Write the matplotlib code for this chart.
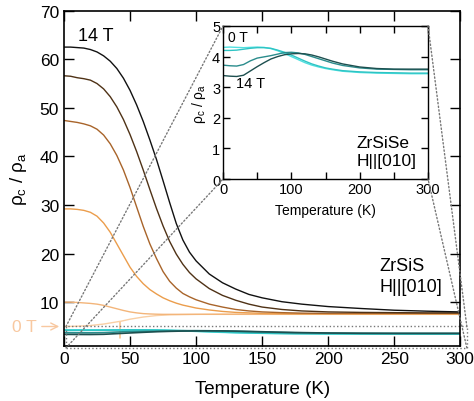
import matplotlib
matplotlib.use("Agg")
import matplotlib.pyplot as plt
from matplotlib.patches import ConnectionPatch
from matplotlib.ticker import MultipleLocator

plt.rcParams["font.family"] = ["Liberation Sans", "DejaVu Sans"]
plt.rcParams["mathtext.fontset"] = "custom"
plt.rcParams["mathtext.rm"] = "Liberation Sans"
plt.rcParams["mathtext.it"] = "Liberation Sans"

# ZrSiS, H || [010], main panel (0 T ... 14 T)
T_s = [0, 5, 10, 15, 20, 25, 30, 35, 40, 45, 50, 55, 60, 65, 70, 75, 80, 85, 90, 95,
       100, 110, 120, 130, 140, 150, 165, 180, 200, 225, 250, 275, 300]
s_14T = [62.5, 62.5, 62.4, 62.3, 62.0, 61.5, 60.7, 59.6, 58.1, 56.1, 53.6, 50.6, 47.2,
         43.4, 39.4, 35.0, 30.5, 26.2, 22.8, 20.3, 18.5, 15.8, 14.0, 12.7, 11.6, 10.9,
         10.1, 9.6, 9.1, 8.7, 8.35, 8.15, 8.0]
s_11T = [56.6, 56.5, 56.2, 56.0, 55.7, 55.0, 53.9, 52.3, 50.2, 47.6, 44.5, 41.0, 37.2,
         33.2, 29.3, 25.7, 22.5, 19.9, 17.8, 16.1, 14.8, 12.8, 11.4, 10.4, 9.6, 9.0,
         8.5, 8.2, 8.0, 7.9, 7.85, 7.8, 7.8]
s_9T = [47.4, 47.2, 47.0, 46.7, 46.3, 45.6, 44.4, 42.6, 40.2, 37.2, 33.6, 29.6, 25.6,
        22.0, 19.0, 16.3, 14.3, 12.9, 11.8, 11.1, 10.5, 9.6, 9.0, 8.5, 8.2, 8.0,
        7.85, 7.75, 7.7, 7.7, 7.7, 7.7, 7.7]
s_6T = [29.2, 29.2, 29.1, 28.9, 28.5, 27.7, 26.3, 24.4, 22.0, 19.6, 17.2, 15.3, 13.8,
        12.6, 11.7, 10.9, 10.3, 9.8, 9.4, 9.1, 8.8, 8.4, 8.1, 7.9, 7.8, 7.7,
        7.65, 7.6, 7.6, 7.6, 7.6, 7.6, 7.6]
s_3T = [10.0, 10.0, 9.95, 9.85, 9.75, 9.6, 9.35, 9.0, 8.65, 8.3, 8.0, 7.8, 7.65, 7.58,
        7.53, 7.5, 7.5, 7.5, 7.5, 7.5, 7.5, 7.5, 7.5, 7.5, 7.5, 7.5, 7.5, 7.5, 7.5,
        7.5, 7.5, 7.5, 7.5]

T_0 = [0, 10, 20, 30, 40, 42.2, 42.4, 42.6, 50, 60, 70, 80, 90, 100, 120, 150, 200, 300]
s_0T = [5.0, 5.05, 5.2, 5.5, 5.95, 6.05, 2.6, 6.05, 6.5, 6.95, 7.25, 7.4, 7.45, 7.5, 7.55,
        7.55, 7.55, 7.55]

zrsis_sets = [s_3T, s_6T, s_9T, s_11T, s_14T]
zrsis_colors = ["#f3b57a", "#eb9d4c", "#a8642a", "#4f3216", "#111111"]

# ZrSiSe, H || [010] (inset, also drawn in main panel)
T_e = [0, 10, 20, 30, 40, 50, 60, 70, 80, 90, 100, 110, 120, 130, 140, 150, 160, 175,
       200, 225, 250, 275, 300]
e_a = [4.30, 4.31, 4.30, 4.29, 4.30, 4.31, 4.30, 4.26, 4.19, 4.10, 4.00, 3.90, 3.80,
       3.72, 3.66, 3.61, 3.57, 3.52, 3.48, 3.46, 3.45, 3.44, 3.44]
e_b = [4.20, 4.20, 4.21, 4.24, 4.27, 4.29, 4.29, 4.27, 4.21, 4.14, 4.05, 3.95, 3.85,
       3.76, 3.69, 3.63, 3.59, 3.54, 3.50, 3.48, 3.47, 3.46, 3.46]
e_c = [3.72, 3.70, 3.69, 3.74, 3.86, 3.95, 3.99, 4.03, 4.08, 4.13, 4.14, 4.12, 4.07,
       4.00, 3.93, 3.86, 3.79, 3.71, 3.63, 3.59, 3.58, 3.57, 3.57]
e_d = [3.38, 3.36, 3.35, 3.39, 3.53, 3.67, 3.80, 3.92, 4.00, 4.06, 4.09, 4.10, 4.09,
       4.05, 3.99, 3.92, 3.85, 3.76, 3.66, 3.61, 3.59, 3.59, 3.59]
zrsise_sets = [e_a, e_b, e_c, e_d]
zrsise_colors = ["#4fe0e0", "#2ec4c4", "#2a8c8c", "#1d4f4f"]

fig = plt.figure(figsize=(4.74, 4.02), dpi=100)
ax = fig.add_axes([0.135, 0.137, 0.836, 0.834])

ax.plot(T_0, s_0T, color="#f9cfa4", lw=1)
for vals, col in zip(zrsis_sets, zrsis_colors):
    ax.plot(T_s, vals, color=col, lw=1)
for vals, col in zip(zrsise_sets, zrsise_colors):
    ax.plot(T_e, vals, color=col, lw=1.2)

ax.set_xlim(0, 300)
ax.set_ylim(1, 70)
ax.xaxis.set_major_locator(MultipleLocator(50))
ax.yaxis.set_major_locator(MultipleLocator(10))
ax.tick_params(direction="in", top=True, right=True, length=7, width=1, labelsize=12.5)
for sp in ax.spines.values():
    sp.set_linewidth(1.2)
ax.set_xlabel("Temperature (K)", fontsize=13.5, labelpad=10)
ax.set_ylabel("ρ$_c$ / ρ$_a$", fontsize=13.5, labelpad=8)

ax.text(10.5, 64.8, "14 T", fontsize=13, va="center")
ax.text(239, 15.3, "ZrSiS\nH||[010]", fontsize=13, va="center", linespacing=1.3)
ax.annotate("0 T", xy=(-1.5, 5.0), xytext=(-21, 5.0), fontsize=12.5, color="#f8c8a0",
            va="center", ha="right", annotation_clip=False,
            arrowprops=dict(arrowstyle="->", color="#f8c8a0", lw=1))

# zoom box
bx = [1.5, 305, 305, 1.5, 1.5]
by = [0.6, 0.6, 5, 5, 0.6]
ax.plot(bx, by, color="#777777", lw=1, ls=":", clip_on=False)

axin = fig.add_axes([0.4705, 0.552, 0.4325, 0.381])
for vals, col in zip(zrsise_sets, zrsise_colors):
    axin.plot(T_e, vals, color=col, lw=1)
axin.set_xlim(0, 300)
axin.set_ylim(0, 5)
axin.xaxis.set_major_locator(MultipleLocator(100))
axin.xaxis.set_minor_locator(MultipleLocator(50))
axin.yaxis.set_major_locator(MultipleLocator(1))
axin.tick_params(which="both", direction="in", top=True, right=True, length=5,
                 width=1, labelsize=10.5, pad=2)
for sp in axin.spines.values():
    sp.set_linewidth(1)
axin.set_xlabel("Temperature (K)", fontsize=10, labelpad=5)
axin.set_ylabel("ρ$_c$ / ρ$_a$", fontsize=10, labelpad=3)
axin.text(7, 4.5, "0 T", fontsize=10)
axin.text(19, 3.0, "14 T", fontsize=10.5)
axin.text(195, 0.9, "ZrSiSe\nH||[010]", fontsize=12.5, va="center", linespacing=1.3)

# dotted connectors from box to inset corners
for (xa, ya), (xb, yb) in [((1.5, 5), (0, 5)), ((1.5, 0.6), (0, 0)),
                           ((305, 5), (300, 5)), ((305, 0.6), (300, 0))]:
    con = ConnectionPatch(xyA=(xa, ya), coordsA=ax.transData,
                          xyB=(xb, yb), coordsB=axin.transData,
                          color="#777777", lw=1, ls=":")
    fig.add_artist(con)

fig.savefig("out.png", dpi=100)
